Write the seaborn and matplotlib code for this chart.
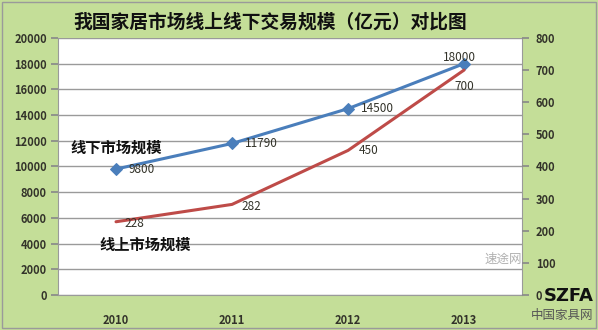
import matplotlib
matplotlib.use("Agg")
import matplotlib.pyplot as plt
import seaborn as sns
import pandas as pd

years = ["2010", "2011", "2012", "2013"]
offline = [9800, 11790, 14500, 18000]
online = [228, 282, 450, 700]
left_ticks = [0, 2000, 4000, 6000, 8000, 10000, 12000, 14000, 16000, 18000, 20000]
right_ticks = [0, 100, 200, 300, 400, 500, 600, 700, 800]

sns.set_theme(style="white")
plt.rcParams["font.family"] = ["Noto Sans CJK SC", "DejaVu Sans"]

BG = "#c4de98"
BLUE = "#4a7ebb"
RED = "#be4b48"
TXT = "#33332a"

df = pd.DataFrame({"year": years, "offline": offline, "online": online})

fig = plt.figure(figsize=(5.98, 3.30), dpi=100, facecolor=BG)
fig.patches.append(plt.Rectangle((0.004, 0.006), 0.992, 0.988, transform=fig.transFigure,
                                 fill=False, edgecolor="#9a9a9a", linewidth=1.0))
ax = fig.add_axes([0.097, 0.106, 0.776, 0.779])
ax.set_facecolor("white")

sns.lineplot(data=df, x="year", y="offline", ax=ax, color=BLUE, linewidth=2.2,
             marker="D", markersize=6, markeredgecolor=BLUE, sort=False)
ax.set_xlim(-0.5, 3.5)
ax.set_ylim(0, 20000)
ax.set_yticks(left_ticks)
ax.set_yticklabels([str(t) for t in left_ticks])
ax.yaxis.grid(True, color="#9a9a9a", linewidth=1.0)
ax.set_axisbelow(True)
ax.set_xlabel("")
ax.set_ylabel("")
ax.set_xticks([0, 1, 2, 3])
ax.set_xticklabels(years)
ax.set_xticks([-0.5, 0.5, 1.5, 2.5, 3.5], minor=True)
ax.tick_params(axis="x", which="major", length=0, pad=14, labelsize=8, labelcolor=TXT)
ax.tick_params(axis="x", which="minor", length=5, color="#8a8a8a", direction="out")
ax.tick_params(axis="y", length=5, color="#8a8a8a", direction="out", labelsize=8,
               labelcolor=TXT, pad=3, left=True)
for lab in ax.get_xticklabels() + ax.get_yticklabels():
    lab.set_fontweight("bold")
ax.spines["top"].set_visible(False)
for s in ["left", "bottom", "right"]:
    ax.spines[s].set_color("#9a9a9a")
    ax.spines[s].set_linewidth(0.8)

ax2 = ax.twinx()
sns.lineplot(data=df, x="year", y="online", ax=ax2, color=RED, linewidth=2.2, sort=False)
ax2.set_ylim(0, 800)
ax2.set_xlim(-0.5, 3.5)
ax2.set_yticks(right_ticks)
ax2.set_yticklabels([str(t) for t in right_ticks])
ax2.set_ylabel("")
ax2.tick_params(axis="y", length=5, color="#8a8a8a", direction="out", labelsize=8,
                labelcolor=TXT, pad=5, right=True)
for lab in ax2.get_yticklabels():
    lab.set_fontweight("bold")
for s in ["top", "right", "left", "bottom"]:
    ax2.spines[s].set_visible(False)

# data labels (offsets in points)
lbl = dict(fontsize=8.5, color=TXT, va="center")
off_pos = [((9, 0), "left"), ((9, 0), "left"), ((9, 0), "left"), ((-3, 4.5), "center")]
for i, v in enumerate(offline):
    (dx, dy), ha = off_pos[i]
    ax.annotate(str(v), (i, v), xytext=(dx, dy), textcoords="offset points", ha=ha, **lbl)
on_pos = [((6, -1.5), "left"), ((7, -1.5), "left"), ((8, 0), "left"), ((0, -11.5), "center")]
for i, v in enumerate(online):
    (dx, dy), ha = on_pos[i]
    ax2.annotate(str(v), (i, v), xytext=(dx, dy), textcoords="offset points", ha=ha, **lbl)

# series names
fig.text(70 / 598, 1 - 148 / 330, "线下市场规模", fontsize=11, fontweight="bold",
         color="#111111", ha="left", va="center")
fig.text(99 / 598, 1 - 245 / 330, "线上市场规模", fontsize=11, fontweight="bold",
         color="#111111", ha="left", va="center")

fig.text(270 / 598, 1 - 22 / 330, "我国家居市场线上线下交易规模（亿元）对比图", fontsize=13.5,
         fontweight="bold", color="#111111", ha="center", va="center")

# site marks
fig.text(503 / 598, 1 - 259 / 330, "速途网", fontsize=9, color="#b0b0b0",
         ha="center", va="center", style="italic")
fig.text(569 / 598, 1 - 296 / 330, "SZFA", fontsize=13, fontweight="bold",
         color="#111111", ha="center", va="center", family=["DejaVu Sans"])
fig.text(562 / 598, 1 - 315 / 330, "中国家具网", fontsize=9, color="#555555",
         ha="center", va="center")

fig.savefig("out.png", dpi=100, facecolor=BG)
